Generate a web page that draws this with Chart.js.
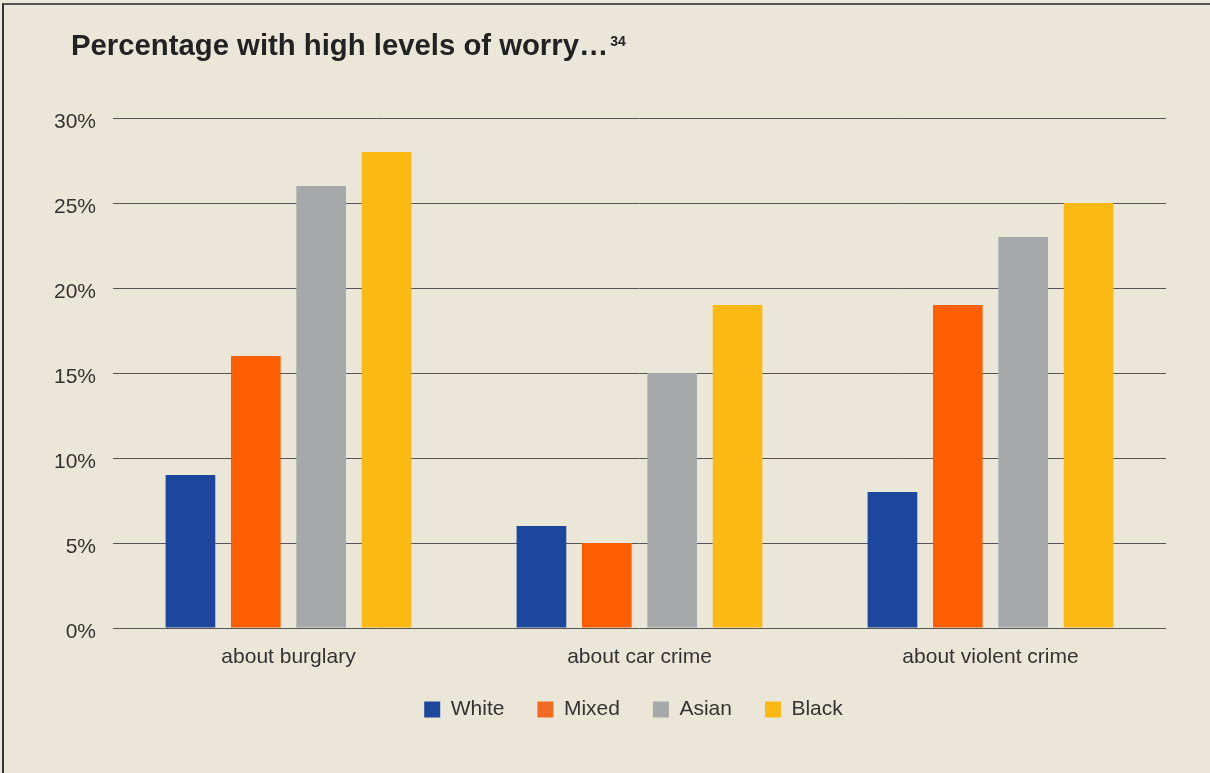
<!DOCTYPE html>
<html><head><meta charset="utf-8">
<script src="https://cdn.jsdelivr.net/npm/chart.js@4.4.0/dist/chart.umd.min.js"></script>
<style>
html,body{margin:0;padding:0;background:#ebe7d8;}
#wrap{position:absolute;left:0;top:0;width:1210px;height:773px;}
#frame{position:absolute;left:2px;top:3px;width:1208px;height:770px;border-top:2px solid #555;border-left:2px solid #333;box-sizing:border-box;pointer-events:none;}
canvas{display:block;}
</style></head>
<body>
<div id="wrap"><canvas id="c" width="1210" height="773"></canvas></div>
<div id="frame"></div>
<script>
const categories = ["about burglary", "about car crime", "about violent crime"];
const white = [9, 6, 8];
const mixed = [16, 5, 19];
const asian = [26, 15, 23];
const black = [28, 19, 25];
const seriesNames = ["White", "Mixed", "Asian", "Black"];
const yTicks = [0, 5, 10, 15, 20, 25, 30];
const titleText = "Percentage with high levels of worry…";
const titleNote = "34";

const FONT = "'Liberation Sans', Arial, sans-serif";
const colors = ["#1c479c", "#ff5f00", "#a7a8aa", "#fdb913"];
const legendColors = ["#1c479c", "#f26a21", "#a7a8aa", "#fdb913"];

const titlePlugin = {
  id: 'titlePlugin',
  afterLayout(chart) {
    const lg = chart.legend;
    if (lg) { lg.left -= 6; lg.right -= 6; lg.top -= 4; lg.bottom -= 4; }
  },
  afterDraw(chart) {
    const ctx = chart.ctx;
    ctx.save();
    ctx.fillStyle = '#222';
    ctx.textBaseline = 'alphabetic';
    ctx.textAlign = 'left';
    ctx.font = "bold 29.3px " + FONT;
    ctx.fillText(titleText, 71, 55);
    const w = ctx.measureText(titleText).width;
    ctx.font = "bold 14px " + FONT;
    ctx.fillText(titleNote, 71 + w + 2, 46);
    ctx.restore();
  }
};

const datasets = [white, mixed, asian, black].map((d, i) => ({
  label: seriesNames[i],
  data: d,
  backgroundColor: colors[i],
  borderWidth: 0,
  barPercentage: 0.76,
  categoryPercentage: 0.745
}));

new Chart(document.getElementById('c'), {
  type: 'bar',
  data: { labels: categories, datasets },
  options: {
    responsive: false,
    animation: false,
    layout: { padding: { top: 118, right: 44, left: 0, bottom: 39 } },
    plugins: {
      legend: {
        position: 'bottom',
        fullSize: false,
        labels: {
          boxWidth: 16, boxHeight: 16, padding: 33,
          color: '#333',
          font: { family: FONT, size: 21 },
          generateLabels(chart) {
            return seriesNames.map((n, i) => ({
              text: n, fillStyle: legendColors[i], strokeStyle: legendColors[i],
              lineWidth: 0, hidden: false, datasetIndex: i, fontColor: '#333'
            }));
          }
        }
      },
      tooltip: { enabled: false },
      title: { display: false }
    },
    scales: {
      x: {
        grid: { display: false, drawTicks: false },
        border: { display: false },
        ticks: { color: '#333', font: { family: FONT, size: 21 }, padding: 17 },
        afterFit(s) { s.height = 42; }
      },
      y: {
        min: 0, max: 30,
        afterBuildTicks(s) { s.ticks = yTicks.map(v => ({ value: v })); },
        grid: { color: '#555', lineWidth: 1, drawTicks: false },
        border: { display: false },
        ticks: { color: '#333', font: { family: FONT, size: 21 }, padding: 17, labelOffset: 4,
                 callback: v => v + '%' },
        afterFit(s) { s.width = 113; }
      }
    }
  },
  plugins: [titlePlugin]
});
</script>
</body></html>
